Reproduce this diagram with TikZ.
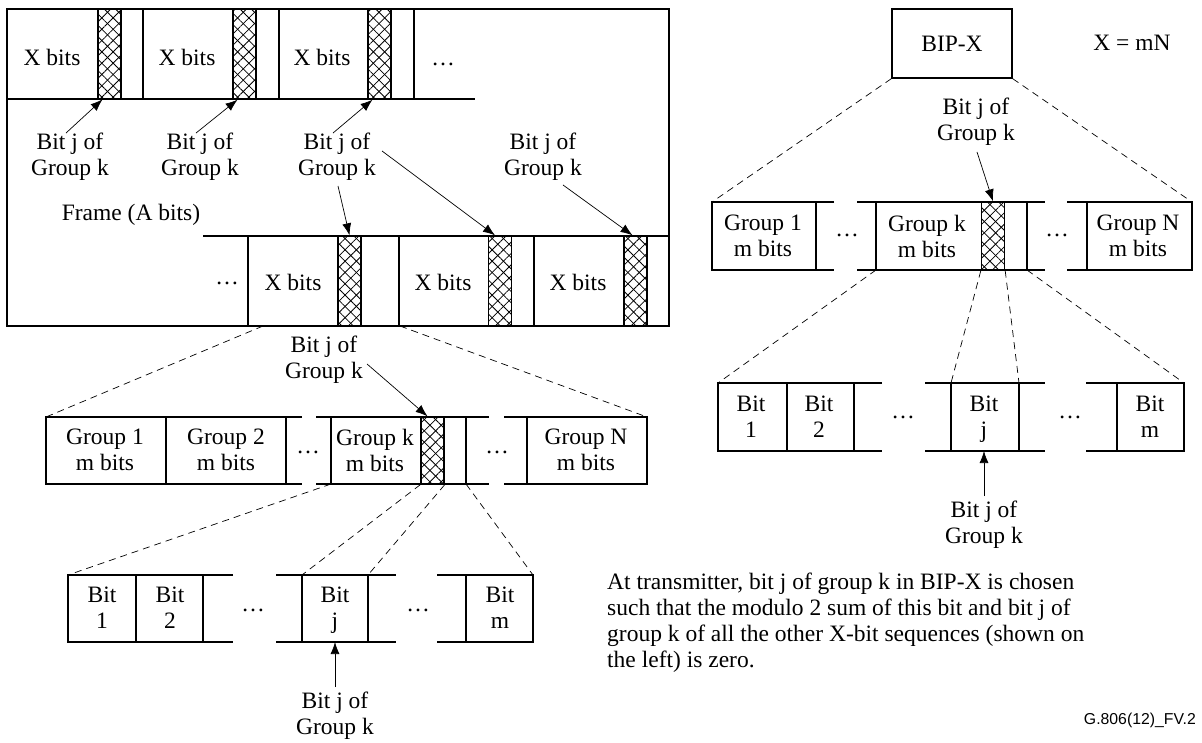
\documentclass[tikz,border=0pt]{standalone}
\usepackage{fontspec}
\setmainfont{Liberation Serif}
\newfontfamily\figfont{Liberation Sans}
\usetikzlibrary{arrows.meta,patterns.meta}

\tikzset{
  cellline/.style={line width=1.4pt},
  hatch/.style={draw,line width=1.4pt,minimum width=23pt,inner sep=0pt,
    pattern={Lines[angle=45,distance=8pt,line width=0.8pt]},
    postaction={pattern={Lines[angle=-45,distance=8pt,line width=0.8pt]}}},
  txt/.style={align=center,inner sep=0pt,font=\fontsize{23.5}{26}\selectfont},
  ptr/.style={line width=0.7pt,-{Latex[length=12pt,width=9pt]}},
  zoomline/.style={line width=0.7pt,dash pattern=on 7pt off 5pt},
}

\begin{document}
\begin{tikzpicture}[x=1pt,y=-1pt]
				\useasboundingbox (0,0) rectangle (1202,742);
				% the frame
				\draw[cellline] (7,9) rectangle (669,326);
				\node[txt] (frm) at (131,215) {Frame (A bits)};
				% first X-bit sequences of the frame
				\draw[cellline] (7,99) -- (475,99);
				\draw[cellline] (143,9) -- (143,99) (279,9) -- (279,99) (414,9) -- (414,99);
				\node[hatch,minimum height=90pt] (ta1) at (109.5,54) {};
				\node[hatch,minimum height=90pt] (ta2) at (244.5,54) {};
				\node[hatch,minimum height=90pt] (ta3) at (379.5,54) {};
				\node[txt] (xa1) at (52,57) {X bits};
				\node[txt] (xa2) at (187,57) {X bits};
				\node[txt] (xa3) at (322,57) {X bits};
				\node[txt] (da1) at (443,64) {\ldots};
				% last X-bit sequences of the frame
				\draw[cellline] (203,236) -- (669,236);
				\draw[cellline] (248,236) -- (248,326) (399,236) -- (399,326) (534,236) -- (534,326);
				\node[hatch,minimum height=90pt] (tb1) at (349.5,281) {};
				\node[hatch,minimum height=90pt] (tb2) at (500,281) {};
				\node[hatch,minimum height=90pt] (tb3) at (635.5,281) {};
				\node[txt] (xb1) at (293,282) {X bits};
				\node[txt] (xb2) at (443,282) {X bits};
				\node[txt] (xb3) at (578,282) {X bits};
				\node[txt] (db1) at (227,283) {\ldots};
				% labels of the bits j
				\node[txt] (la1) at (70,157) {Bit j of\\Group k};
				\node[txt] (la2) at (200,157) {Bit j of\\Group k};
				\node[txt] (la3) at (337,157) {Bit j of\\Group k};
				\node[txt] (la4) at (543,157) {Bit j of\\Group k};
				\draw[ptr] ([xshift=-4pt]la1.north) -- ([xshift=-7pt]ta1.south);
				\draw[ptr] ([xshift=-4pt]la2.north) -- ([xshift=-7pt]ta2.south);
				\draw[ptr] ([xshift=-4pt]la3.north) -- ([xshift=-7pt]ta3.south);
				\draw[ptr] ([xshift=6pt,yshift=6pt]la3.east) -- ([xshift=-5pt]tb2.north);
				\draw[ptr] ([xshift=1pt,yshift=-5pt]la3.south) -- (tb1.north);
				\draw[ptr] ([xshift=20pt,yshift=-4pt]la4.south) -- ([xshift=-3pt]tb3.north);
				% one X-bit sequence split in groups
				\coordinate (zb1) at (263,326);
				\coordinate (zb2) at (400,326);
				\coordinate (gl) at (46,417);
				\coordinate (gr) at (647,417);
				\draw[zoomline] (zb1) -- (gl);
				\draw[zoomline] (zb2) -- (gr);
				\draw[cellline] (302,417) -- (46,417) -- (46,484) -- (302,484);
				\draw[cellline] (316,417) -- (489,417) (316,484) -- (489,484);
				\draw[cellline] (504,417) -- (647,417) -- (647,484) -- (504,484);
				\draw[cellline] (166,417) -- (166,484) (286,417) -- (286,484) (331,417) -- (331,484)
				  (466,417) -- (466,484) (527,417) -- (527,484);
				\node[hatch,minimum height=67pt] (gk) at (432.5,450.5) {};
				\node[txt] (g1) at (105,450) {Group 1\\m bits};
				\node[txt] (g2) at (226,450) {Group 2\\m bits};
				\node[txt] (gkt) at (375,450) {Group k\\m bits};
				\node[txt] (gn) at (586,450) {Group N\\m bits};
				\node[txt] (dg1) at (308,452) {\ldots};
				\node[txt] (dg2) at (497,452) {\ldots};
				\node[txt] (lb) at (324,360) {Bit j of\\Group k};
				\draw[ptr] ([xshift=4pt,yshift=-4pt]lb.east) -- ([xshift=-5pt]gk.north);
				% group k split in bits
				\coordinate (gkl) at (331,484);
				\coordinate (gkr) at (466,484);
				\coordinate (bl) at (68,575);
				\coordinate (bjl) at (302,575);
				\coordinate (bjr) at (368,575);
				\coordinate (br) at (533,575);
				\draw[zoomline] (gkl) -- (bl);
				\draw[zoomline] (gk.south west) -- (bjl);
				\draw[zoomline] (gk.south east) -- (bjr);
				\draw[zoomline] (gkr) -- (br);
				\draw[cellline] (233,575) -- (68,575) -- (68,642) -- (233,642);
				\draw[cellline] (276,575) -- (396,575) (276,642) -- (396,642);
				\draw[cellline] (437,575) -- (533,575) -- (533,642) -- (437,642);
				\draw[cellline] (136,575) -- (136,642) (203,575) -- (203,642) (302,575) -- (302,642)
				  (368,575) -- (368,642) (466,575) -- (466,642);
				\node[txt] (b1) at (102,608) {Bit\\1};
				\node[txt] (b2) at (170,608) {Bit\\2};
				\node[txt] (bj) at (335,610) {Bit\\j};
				\node[txt] (bm) at (500,608) {Bit\\m};
				\node[txt] (db2) at (253,610) {\ldots};
				\node[txt] (db3) at (418,610) {\ldots};
				\coordinate (bjb) at (335,642);
				\node[txt] (lj) at (335,716) {Bit j of\\Group k};
				\draw[ptr] ([yshift=5pt]lj.north) -- (bjb);
				% the BIP-X
				\node[txt,draw,cellline,minimum width=120pt,minimum height=69pt] (bip) at (952,43.5) {BIP-X};
				\node[txt] (xmn) at (1132,43) {X = mN};
				\coordinate (rgl) at (712,202);
				\coordinate (rgr) at (1192,202);
				\draw[zoomline] (bip.south west) -- (rgl);
				\draw[zoomline] (bip.south east) -- (rgr);
				\draw[cellline] (834,202) -- (712,202) -- (712,270) -- (834,270);
				\draw[cellline] (857,202) -- (1045,202) (857,270) -- (1045,270);
				\draw[cellline] (1067,202) -- (1192,202) -- (1192,270) -- (1067,270);
				\draw[cellline] (816,202) -- (816,270) (876,202) -- (876,270) (1027,202) -- (1027,270)
				  (1087,202) -- (1087,270);
				\node[hatch,minimum height=68pt] (rk) at (993,236) {};
				\node[txt] (rg1) at (763,236) {Group 1\\m bits};
				\node[txt] (rgk) at (927,236) {Group k\\m bits};
				\node[txt] (rgn) at (1138,236) {Group N\\m bits};
				\node[txt] (dr1) at (847,235) {\ldots};
				\node[txt] (dr2) at (1057,235) {\ldots};
				\node[txt] (rl) at (976,122) {Bit j of\\Group k};
				\draw[ptr] ([xshift=1pt,yshift=-6pt]rl.south) -- (rk.north);
				% group k of the BIP-X split in bits
				\coordinate (rkl) at (876,270);
				\coordinate (rkr) at (1027,270);
				\coordinate (rbl) at (718,383);
				\coordinate (rbjl) at (951,383);
				\coordinate (rbjr) at (1019,383);
				\coordinate (rbr) at (1184,383);
				\draw[zoomline] (rkl) -- (rbl);
				\draw[zoomline] (rk.south west) -- (rbjl);
				\draw[zoomline] (rk.south east) -- (rbjr);
				\draw[zoomline] (rkr) -- (rbr);
				\draw[cellline] (882,383) -- (718,383) -- (718,451) -- (882,451);
				\draw[cellline] (925,383) -- (1045,383) (925,451) -- (1045,451);
				\draw[cellline] (1086,383) -- (1184,383) -- (1184,451) -- (1086,451);
				\draw[cellline] (787,383) -- (787,451) (854,383) -- (854,451) (951,383) -- (951,451)
				  (1019,383) -- (1019,451) (1117,383) -- (1117,451);
				\node[txt] (rb1) at (751,417) {Bit\\1};
				\node[txt] (rb2) at (819,417) {Bit\\2};
				\node[txt] (rbj) at (984,419) {Bit\\j};
				\node[txt] (rbm) at (1150,417) {Bit\\m};
				\node[txt] (dr3) at (903,417) {\ldots};
				\node[txt] (dr4) at (1070,417) {\ldots};
				\coordinate (rbjb) at (984,451);
				\node[txt] (rj) at (984,525) {Bit j of\\Group k};
				\draw[ptr] ([yshift=5pt]rj.north) -- (rbjb);
				% the note
				\node[txt,align=left,anchor=west] (note) at (607,622.5) {At transmitter, bit j of group k in BIP-X is chosen\\such that the modulo 2 sum of this bit and bit j of\\group k of all the other X-bit sequences (shown on\\the left) is zero.};
				\node[anchor=east,inner sep=0pt,font=\figfont\fontsize{15.8}{18}\selectfont] (fig) at (1196,720) {G.806(12)\_FV.2};
			\end{tikzpicture}
\end{document}
